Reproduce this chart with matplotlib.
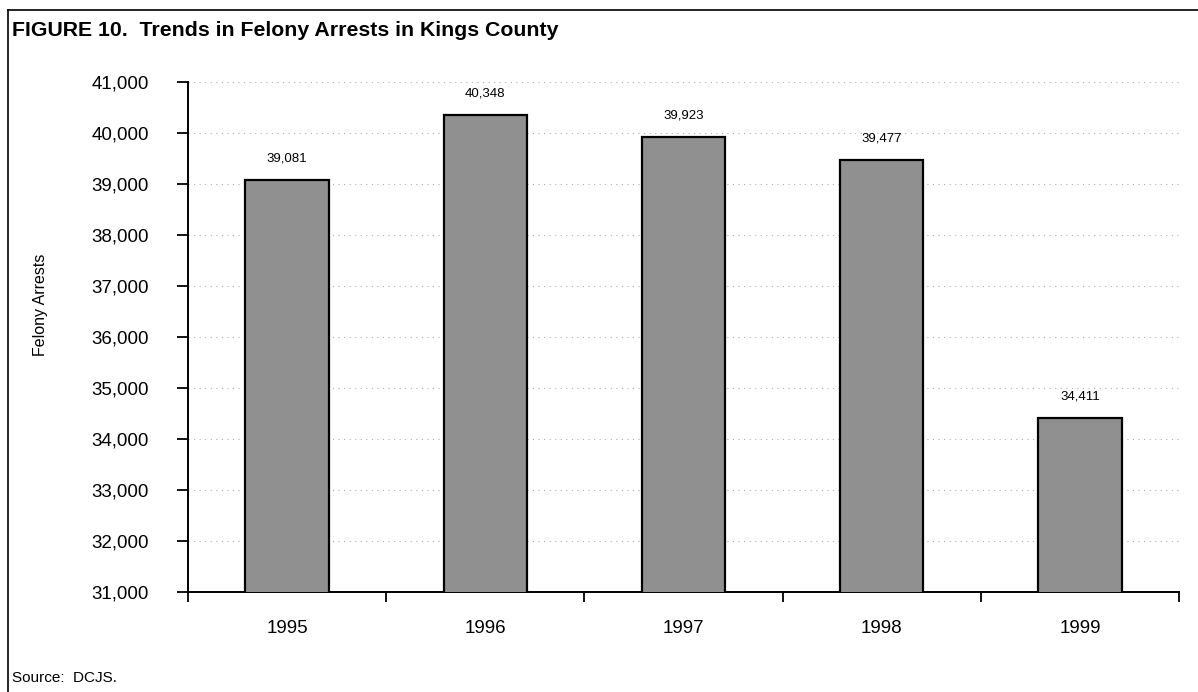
import matplotlib
matplotlib.use("Agg")
import matplotlib.pyplot as plt
from matplotlib.lines import Line2D
import numpy as np

years = ["1995", "1996", "1997", "1998", "1999"]
arrests = [39081, 40348, 39923, 39477, 34411]
yticks = list(range(31000, 41001, 1000))

plt.rcParams['font.family'] = ['Liberation Sans', 'DejaVu Sans']

fig = plt.figure(figsize=(11.98, 6.92), dpi=100)
ax = fig.add_axes([188 / 1198, 1 - 592 / 692, (1179 - 188) / 1198, (592 - 82) / 692])

x = np.arange(len(years))
bars = ax.bar(x, arrests, width=0.42, color='#909090', edgecolor='black', linewidth=1.6, zorder=3)

for xi, v in zip(x, arrests):
    ax.annotate(f"{v:,}", (xi, v), xytext=(0, 11), textcoords='offset points',
                ha='center', va='bottom', fontsize=9.5)

ax.set_ylim(31000, 41000)
ax.set_xlim(-0.5, len(years) - 0.5)
ax.set_yticks(yticks)
ax.set_yticklabels([f"{t:,}" for t in yticks], fontsize=13.5)
ax.tick_params(axis='y', direction='out', length=8, width=1.3, pad=20)

ax.set_xticks(x)
ax.set_xticklabels(years, fontsize=13.5)
ax.set_xticks(np.arange(-0.5, len(years)), minor=True)
ax.tick_params(axis='x', which='major', length=0, pad=20)
ax.tick_params(axis='x', which='minor', direction='out', length=7, width=1.3)

ax.grid(axis='y', color='#b0b0b0', linestyle=(0, (1, 4)), linewidth=0.8, zorder=0)
for side in ['top', 'right']:
    ax.spines[side].set_visible(False)
for side in ['left', 'bottom']:
    ax.spines[side].set_linewidth(1.4)

ax.set_ylabel("Felony Arrests", fontsize=11.5)
ax.yaxis.set_label_coords((48 - 188) / 991, (592 - 305) / 510)

# outer frame of the figure
fig.add_artist(Line2D([8 / 1198, 1.0], [1 - 10 / 692] * 2, color='black', lw=1.2))
fig.add_artist(Line2D([8 / 1198] * 2, [0.0, 1 - 10 / 692], color='black', lw=1.2))

fig.text(12 / 1198, 1 - 30 / 692, "FIGURE 10.  Trends in Felony Arrests in Kings County",
         fontsize=15.3, fontweight='bold', va='center', ha='left')
fig.text(12 / 1198, 1 - 678 / 692, "Source:  DCJS.", fontsize=11, va='center', ha='left')

fig.savefig("out.png", dpi=100)
